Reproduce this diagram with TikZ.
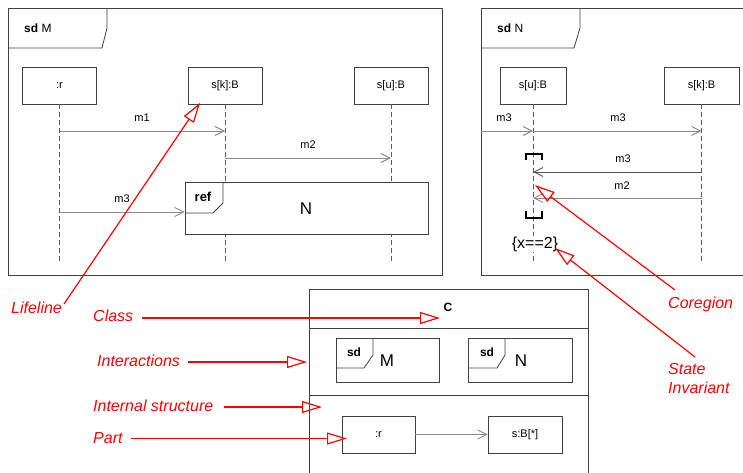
\documentclass[tikz,border=0pt]{standalone}
\usepackage{fontspec}
\setmainfont{Liberation Sans}
\usetikzlibrary{arrows.meta}
\definecolor{frm}{HTML}{404040}
\definecolor{msg}{HTML}{8A8A8A}
\definecolor{anno}{HTML}{FF0000}
\tikzset{
  frameline/.style={draw=frm, line width=0.8pt},
  lifehead/.style={draw=frm, line width=0.8pt, fill=white, minimum width=74pt, minimum height=37pt, inner sep=0pt, font=\fontsize{11}{13}\selectfont},
  lifeline/.style={draw=frm!85, dash pattern=on 5pt off 3pt, line width=0.7pt},
  msgarrow/.style={draw=msg, line width=0.9pt, -{Straight Barb[length=9pt,width=9pt]}},
  msglbl/.style={font=\fontsize{11}{13}\selectfont, inner sep=0pt},
  annoline/.style={draw=anno, line width=1.2pt, -{Triangle[open,length=20pt,width=12pt]}},
  annoplain/.style={draw=anno, line width=1.2pt},
  annolbl/.style={text=anno, font=\fontsize{16}{19}\selectfont\itshape, inner sep=0pt, anchor=west},
  tablbl/.style={font=\fontsize{12}{14}\selectfont, inner sep=0pt, anchor=west},
  biglbl/.style={font=\fontsize{17}{20}\selectfont, inner sep=0pt},
  coreg/.style={draw=black, line width=2pt}
}
\begin{document}
\begin{tikzpicture}[x=1pt, y=-1pt]
\clip (0,0) rectangle (743,473);
\fill[white] (0,0) rectangle (743,473);

% ---------------- Frame sd M ----------------
\draw[frameline] (8,8) rectangle (442,275);
\draw[frameline] (8,48) -- (102,48) -- (107,28) -- (107,8);
\node[tablbl] (sdM) at (24,28) {\textbf{sd} M};

\node[lifehead] (r)  at (59.5,85.5) {:r};
\node[lifehead] (sk) at (225,85.5) {s[k]:B};
\node[lifehead] (su) at (391,85.5) {s[u]:B};
\coordinate (rend) at (59.5,262);
\coordinate (skend) at (225,262);
\coordinate (suend) at (391,262);
\draw[lifeline] (r.south) -- (rend);
\draw[lifeline] (sk.south) -- (skend);
\draw[lifeline] (su.south) -- (suend);

\coordinate (m1a) at (59.5,131);
\coordinate (m1b) at (225,131);
\draw[msgarrow] (m1a) -- (m1b);
\node[msglbl] (m1l) at (142,118) {m1};
\coordinate (m2a) at (225,158);
\coordinate (m2b) at (391,158);
\draw[msgarrow] (m2a) -- (m2b);
\node[msglbl] (m2l) at (308,145) {m2};

% ref N
\node[draw=frm, line width=0.8pt, fill=white, minimum width=243pt, minimum height=52pt, inner sep=0pt] (refN) at (306.5,208) {};
\draw[frameline] (185,213) -- (213,213) -- (223,203) -- (223,182);
\node[font=\fontsize{13}{15}\selectfont\bfseries, inner sep=0pt] (reflbl) at (203,197) {ref};
\node[biglbl] (Nlbl) at (306,209) {N};
\coordinate (m3a) at (59.5,212);
\draw[msgarrow] (m3a) -- (refN.west |- m3a);
\node[msglbl] (m3l) at (122,199) {m3};

% ---------------- Frame sd N ----------------
\draw[frameline] (481,275) -- (481,8) -- (760,8);
\draw[frameline] (481,275) -- (760,275);
\draw[frameline] (481,48) -- (574,48) -- (580,28) -- (580,8);
\node[tablbl] (sdN) at (497,28) {\textbf{sd} N};

\node[lifehead, minimum width=66pt] (su2) at (533,85.5) {s[u]:B};
\node[lifehead, minimum width=75pt] (sk2) at (701.5,85.5) {s[k]:B};
\coordinate (su2end) at (533,262);
\coordinate (sk2end) at (701.5,262);
\draw[lifeline] (su2.south) -- (su2end);
\draw[lifeline] (sk2.south) -- (sk2end);

\coordinate (gate) at (481,131);
\coordinate (n1a) at (533,131);
\coordinate (n1b) at (701.5,131);
\draw[msgarrow] (gate) -- (n1a);
\node[msglbl] (n0l) at (504,118) {m3};
\draw[msgarrow] (n1a) -- (n1b);
\node[msglbl] (n1l) at (618,118) {m3};
\coordinate (n2a) at (701.5,172);
\coordinate (n2b) at (533,172);
\draw[msgarrow, draw=frm!90] (n2a) -- (n2b);
\node[msglbl] (n2l) at (623,159) {m3};
\coordinate (n3a) at (701.5,198);
\coordinate (n3b) at (533,198);
\draw[msgarrow] (n3a) -- (n3b);
\node[msglbl] (n3l) at (622,186) {m2};

\draw[coreg] (526,160) -- (526,154) -- (542,154) -- (542,160);
\draw[coreg] (526,211) -- (526,218) -- (542,218) -- (542,211);
\node[fill=white, inner sep=0.5pt, font=\fontsize{16}{18}\selectfont] (inv) at (535,244) {\{x==2\}};

% ---------------- Class C ----------------
\draw[frameline] (309,480) -- (309,289) -- (588,289) -- (588,480);
\draw[frameline] (309,328) -- (588,328);
\draw[frameline] (309,395) -- (588,395);
\node[font=\fontsize{12}{14}\selectfont\bfseries, inner sep=0pt] (Cl) at (448,307) {C};

% interaction uses in class
\node[draw=frm, line width=0.8pt, minimum width=103pt, minimum height=44pt, inner sep=0pt] (iM) at (387.5,360) {};
\draw[frameline] (336,368) -- (364,368) -- (373,355) -- (373,338);
\node[font=\fontsize{12}{14}\selectfont\bfseries, inner sep=0pt] (iMsd) at (354,352) {sd};
\node[biglbl] (iMl) at (387,361) {M};
\node[draw=frm, line width=0.8pt, minimum width=104pt, minimum height=44pt, inner sep=0pt] (iN) at (520,360) {};
\draw[frameline] (468,368) -- (497,368) -- (505,355) -- (505,338);
\node[font=\fontsize{12}{14}\selectfont\bfseries, inner sep=0pt] (iNsd) at (487,352) {sd};
\node[biglbl] (iNl) at (521,361) {N};

% parts
\node[lifehead, minimum width=73pt] (pr) at (378.5,434.5) {:r};
\node[lifehead, minimum width=74pt] (ps) at (525,434.5) {s:B[*]};
\draw[msgarrow] (pr.east) -- (ps.west);

% ---------------- Red annotations ----------------
\node[annolbl] (Lifeline) at (11,308) {Lifeline};
\coordinate (lifeS) at (64,304);
\coordinate (lifeT) at (200,103);
\draw[annoline] (lifeS) -- (lifeT);

\node[annolbl] (Class) at (93,316) {Class};
\coordinate (clsS) at (142,318);
\coordinate (clsT) at (440,318);
\draw[annoline] (clsS) -- (clsT);

\node[annolbl] (Inter) at (97,361) {Interactions};
\coordinate (intS) at (188,362);
\coordinate (intT) at (307,362);
\draw[annoline] (intS) -- (intT);

\node[annolbl] (Struct) at (93,406) {Internal structure};
\coordinate (strS) at (224,407);
\coordinate (strT) at (322,407);
\draw[annoline] (strS) -- (strT);

\node[annolbl] (Part) at (93,438) {Part};
\coordinate (prtS) at (131,438.5);
\coordinate (prtT) at (347,438.5);
\draw[annoline] (prtS) -- (prtT);

\node[annolbl] (Coreg) at (668,304) {Coregion};
\coordinate (corS) at (675,290);
\coordinate (corT) at (535,185);
\draw[annoline] (corS) -- (corT);

\node[annolbl, align=left] (StInv) at (668,378) {State\\Invariant};
\coordinate (stS) at (695,357);
\coordinate (stT) at (555,248);
\draw[annoline] (stS) -- (stT);
\end{tikzpicture}
\end{document}
